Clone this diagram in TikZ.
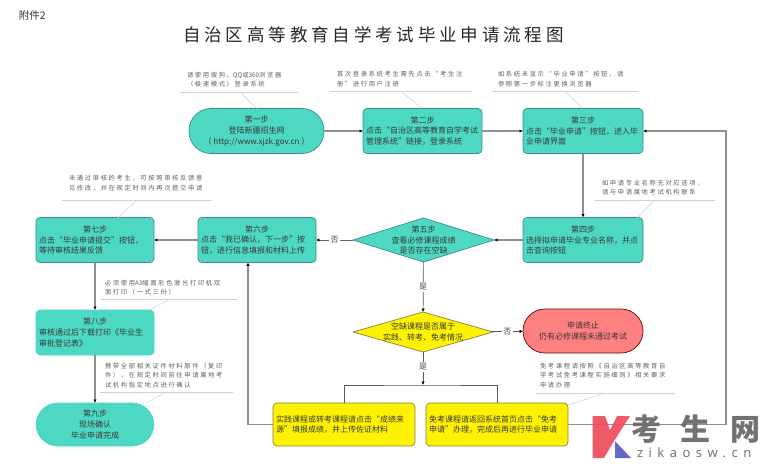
\documentclass[tikz,border=0pt]{standalone}
\usepackage{fontspec}
\setmainfont{Noto Sans CJK SC}
\newfontfamily\titlefont[LetterSpace=22]{Noto Sans CJK SC}
\newfontfamily\notefont[LetterSpace=26]{Noto Sans CJK SC}
\newfontfamily\notelatin{Noto Sans CJK SC}
\newfontfamily\wmfont[LetterSpace=65]{Noto Sans CJK SC}
\newfontfamily\wmlatin[LetterSpace=42]{Noto Sans}
\usetikzlibrary{arrows.meta,shapes.geometric}
\definecolor{teal}{HTML}{4DD8C4}
\definecolor{tealedge}{HTML}{3F8C8C}
\definecolor{flowgray}{HTML}{8F8F8F}
\definecolor{wmred}{HTML}{EE4C5C}
\definecolor{wmblue}{HTML}{6466C8}
\newcommand{\stp}[1]{\makebox[\linewidth][c]{#1}\\}
\tikzset{
  every node/.style={inner sep=0pt,outer sep=0pt},
  bodyfont/.style={font=\fontsize{8}{10.8}\selectfont,text=black!78},
  stepbox/.style 2 args={draw=tealedge,fill=teal,line width=.7pt,rounded corners=4pt,bodyfont,
     minimum width=#1,minimum height=#2,text width=#1-6pt,inner xsep=3pt,align=left},
  plainbox/.style 2 args={stepbox={#1}{#2},draw=teal},
  yelbox/.style 2 args={stepbox={#1}{#2},draw=black!55!yellow,fill=yellow},
  pill/.style 2 args={draw=tealedge,fill=teal,line width=.7pt,rounded corners=22pt,bodyfont,
     minimum width=#1,minimum height=#2,align=center},
  dia/.style 2 args={diamond,aspect=3.2,inner sep=0pt,minimum width=#1,minimum height=#2,line width=.7pt},
  diatext/.style={bodyfont,align=center},
  noteline/.style={font=\notefont\fontsize{6.3}{9.6}\selectfont,text=black!62,align=left,anchor=west},
  leader/.style={draw=black!18,line width=.5pt},
  flow/.style={draw=flowgray,line width=1.2pt,-{Latex[black,length=3.4pt,width=3.4pt]}},
  flowthin/.style={draw=black!65,line width=.7pt,-{Latex[black,length=3.4pt,width=3.4pt]}},
  branch/.style={draw=black!65,line width=.7pt},
  lab/.style={fill=white,font=\fontsize{8}{10}\selectfont,text=black!70,inner sep=1.5pt},
}
\begin{document}
\begin{tikzpicture}[x=1pt,y=-1pt]
\useasboundingbox (0,0) rectangle (774,472);
\fill[white] (0,0) rectangle (774,472);
\node[anchor=west,font=\fontsize{10.5}{12}\selectfont,text=black!80] (att) at (19,16) {附件2};
\node[font=\titlefont\fontsize{17.5}{20}\selectfont,text=black!85] (title) at (373.5,35) {自治区高等教育自学考试毕业申请流程图};

% steps
\node[pill={135pt}{45pt}] (s1) at (256.5,131) {第一步\\登陆新疆招生网\\（ http://www.xjzk.gov.cn ）};
\node[stepbox={119pt}{45pt}] (s2) at (422.5,131) {\stp{第二步}点击“自治区高等教育自学考试\\管理系统”链接，登录系统};
\node[stepbox={120pt}{45pt}] (s3) at (583,131) {\stp{第三步}点击“毕业申请”按钮，进入毕\\业申请界面};
\node[stepbox={120pt}{45pt}] (s4) at (583,240) {\stp{第四步}选择拟申请毕业专业名称，并点\\击查询按钮};
\node[dia={141pt}{44pt},draw=tealedge,fill=teal,label={[diatext]center:{第五步\\查看必修课程成绩\\是否存在空缺}}] (s5) at (423.5,240) {};
\node[stepbox={118pt}{45pt}] (s6) at (257,240) {\stp{第六步}点击“我已确认，下一步”按\\钮，进行信息填报和材料上传};
\node[stepbox={118pt}{45pt}] (s7) at (95,240) {\stp{第七步}点击“毕业申请提交”按钮，\\等待审核结果反馈};
\node[plainbox={118pt}{45pt}] (s8) at (95,332.5) {\stp{第八步}审核通过后下载打印《毕业生\\审批登记表》};
\node[pill={118pt}{43pt},draw=teal] (s9) at (95,424.5) {第九步\\现场确认\\毕业申请完成};
\node[dia={140pt}{40pt},draw=black!55!yellow,fill=yellow,label={[diatext]center:{空缺课程是否属于\\实践、转考、免考情况}}] (q) at (423,332) {};
\node[pill={120pt}{44pt},draw=black!55!red,fill=red!50!white] (stopn) at (583,331) {申请终止\\仍有必修课程未通过考试};
\node[yelbox={142pt}{43pt}] (y1) at (344,424.5) {实践课程或转考课程请点击“成绩来\\源”填报成绩，并上传佐证材料};
\node[yelbox={142pt}{43pt}] (y2) at (497,424.5) {免考课程请返回系统首页点击“免考\\申请”办理，完成后再进行毕业申请};

% connectors
\coordinate (rt) at (726,300);
\coordinate (jn) at (423,385);
\draw[flow] (s1) -- (s2);
\draw[flow] (s2) -- (s3);
\draw[flow] (s3) -- (s4);
\draw[flow] (s4) -- (s5);
\draw[flow,draw=black!60,line width=.8pt] (s5) -- node[lab,pos=.5] (no1) {否} (s6);
\draw[flow] (s6) -- (s7);
\draw[flow] (s7) -- (s8);
\draw[flow] (s8) -- (s9);
\draw[flowthin] (s5) -- node[lab,pos=.5] (yes1) {是} (q);
\draw[flowthin] (q) -- node[lab,pos=.5] (no2) {否} (stopn);
\draw[flowthin] (q) -- node[lab,pos=.45] (yes2) {是} (jn);
\draw[branch] (y1.north) |- (jn) -| (y2.north);
\draw[flow] (y1.west) -| ([xshift=-9pt]s6.south);
\draw[flow] (y2.east) -| (rt) |- (s3.east);

% notes
\node[noteline] (n1) at (187,79.5) {请使用搜狗、{\notelatin QQ}或{\notelatin 360}浏览器\\（极速模式）登录系统};
\draw[leader] (180,92) coordinate (u1a) -- (298,92) coordinate (u1b);
\draw[leader] (240,92) coordinate (u1c) -- (s1.north);
\node[noteline] (n2) at (337,79) {首次登录系统考生需先点击“考生注\\册”进行用户注册};
\draw[leader] (330,91.5) coordinate (u2a) -- (472,91.5) coordinate (u2b);
\draw[leader] (401,91.5) coordinate (u2c) -- (s2.north);
\node[noteline] (n3) at (498,79) {如系统未显示“毕业申请”按钮，请\\参照第一步标注更换浏览器};
\draw[leader] (492,91.5) coordinate (u3a) -- (638,91.5) coordinate (u3b);
\draw[leader] (565,91.5) coordinate (u3c) -- (s3.north);
\node[noteline] (n4) at (602,187.5) {如申请专业名称无对应选项，\\请与申请属地考试机构联系};
\draw[leader] (595,200) coordinate (u4a) -- (715,200) coordinate (u4b);
\draw[leader] (655,200) coordinate (u4c) -- (637,218) coordinate (u4d);
\node[noteline] (n7) at (69,183) {未通过审核的考生，可按照审核反馈意\\见修改，并在规定时间内再次提交申请};
\draw[leader] (62,200) coordinate (u7a) -- (212,200) coordinate (u7b);
\draw[leader] (137,200) coordinate (u7c) -- (118,218) coordinate (u7d);
\node[noteline] (n8) at (105,287.5) {必须使用{\notelatin A3}幅面彩色激光打印机双\\面打印（一式三份）};
\draw[leader] (101,299) coordinate (u8a) -- (237,299) coordinate (u8b);
\draw[leader] (170,299) coordinate (u8c) -- (150,310) coordinate (u8d);
\node[noteline] (n9) at (105,375.5) {携带全部相关证件材料原件（复印\\件），在规定时间前往申请属地考\\试机构指定地点进行确认};
\draw[leader] (100,392) coordinate (u9a) -- (233,392) coordinate (u9b);
\draw[leader] (166,392) coordinate (u9c) -- (146,403) coordinate (u9d);
\node[noteline] (n10) at (540,375.5) {免考课程请按照《自治区高等教育自\\学考试免考课程实施细则》相关要求\\申请办理};
\draw[leader] (536,393) coordinate (uAa) -- (675,393) coordinate (uAb);
\draw[leader] (605,393) coordinate (uAc) -- (568,405) coordinate (uAd);

% watermark
\fill[wmred,opacity=.92] (592.7,416) -- (605,416) -- (610,430) -- (617,416) -- (630,416) -- (614,441) -- (604,458) -- (592.7,458) -- cycle;
\fill[wmblue] (615,458) -- (631,458) -- (615,441) -- cycle;
\node[anchor=west,font=\wmfont\bfseries\fontsize{30}{32}\selectfont,text=black!58,opacity=.95] (wm1) at (631,429) {考生网};
\node[anchor=west,font=\wmlatin\fontsize{13}{15}\selectfont,text=black!55] (wm2) at (637,453) {zikaosw.cn};
\end{tikzpicture}
\end{document}
